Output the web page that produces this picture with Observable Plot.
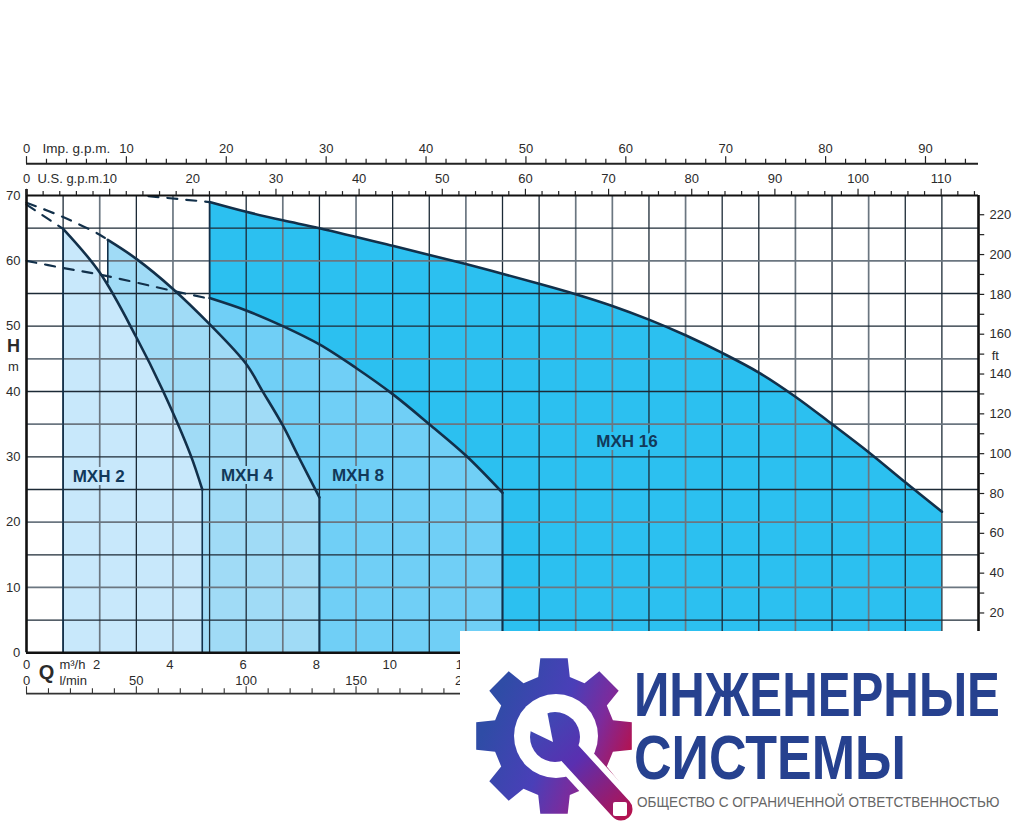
<!DOCTYPE html>
<html>
<head>
<meta charset="utf-8">
<style>html,body{margin:0;padding:0;background:#fff}svg{display:block}</style>
<script src="https://cdn.jsdelivr.net/npm/d3@7"></script>
<script src="https://cdn.jsdelivr.net/npm/@observablehq/plot@0.6"></script>
</head>
<body>
<script>
// Performance curves: Q in m³/h, H in m
const mxh2Q = [1, 2, 3, 3.71, 4.48, 4.8];
const mxh2H = [64.9, 58.2, 48.3, 40.3, 30.3, 25];
const mxh4Q = [2.22, 3, 4, 5, 6, 6.44, 7, 7.44, 8];
const mxh4H = [63.2, 60.3, 55.7, 50.3, 44.2, 40.1, 34.8, 29.9, 23.8];
const mxh8Q = [5, 6, 7, 8, 9, 10, 11, 12, 13];
const mxh8H = [54.3, 52.4, 50, 47.2, 43.6, 39.6, 35, 30.2, 24.5];
const mxh16Q = [5, 6, 7, 8, 10, 12, 14, 15, 16, 17, 18, 19, 20, 21, 22, 23, 24, 25];
const mxh16H = [69, 67.5, 66.2, 65, 62.3, 59.5, 56.5, 54.9, 53.1, 51, 48.6, 45.9, 42.9, 39.2, 35, 30.7, 26.1, 21.6];

// Dashed extensions
const dash1Q = [0, 1, 2, 2.22];
const dash1H = [68.9, 66.7, 64, 63.2];
const dash2Q = [0, 1];
const dash2H = [68.6, 64.9];
const dash3Q = [0, 1, 2, 4, 5];
const dash3H = [60, 58.9, 57.9, 55.4, 54.2];
const dash4Q = [3.33, 5];
const dash4H = [69.9, 69];

// Axes
const gridQ = d3.range(1, 26);
const gridH = d3.range(5, 70, 5);
const softQ = [2, 4, 7, 9, 12, 15, 16, 18, 21, 23];
const softH = [60, 45, 35, 20, 10];
const hLabels = [10, 20, 30, 40, 50, 60, 70];
const qLabels = [2, 4, 6, 8, 10, 12];
const lminLabels = [50, 100, 150, 200];
const lminTicks = d3.range(0, 231, 10);
const impLabels = [10, 20, 30, 40, 50, 60, 70, 80, 90];
const impTicks = d3.range(0, 95, 2);
const usLabels = [10, 20, 30, 40, 50, 60, 70, 80, 90, 100, 110];
const usTicks = d3.range(0, 115, 2);
const ftLabels = [20, 40, 60, 80, 100, 120, 140, 160, 180, 200, 220];
const ftTicks = d3.range(10, 221, 10);

// Unit conversions
const impToQ = 0.2728, usToQ = 0.2271, lminToQ = 0.06, ftToH = 0.3048;

const pts = (Q, H) => Q.map((q, i) => ({q, h: H[i]}));
const ink = "#12304a", txt = "#2b2b2b", lab = "#12395a";
const fills = {m2: "#c8e8fb", m4: "#a0dbf6", m8: "#70cff6", m16: "#2cc0f0"};
const curve = "catmull-rom";

function logo() {
  const g = d3.create("svg:g").attr("text-anchor", "start");
  const defs = g.append("defs");
  const grad = defs.append("linearGradient").attr("id", "lg").attr("gradientUnits", "userSpaceOnUse")
    .attr("x1", 490).attr("y1", 715).attr("x2", 625).attr("y2", 770);
  [[0, "#2f4ca6"], [0.45, "#4a3fb8"], [0.72, "#7c2b9c"], [1, "#b5124e"]].forEach(([o, c]) =>
    grad.append("stop").attr("offset", o).attr("stop-color", c));
  const gw = defs.append("linearGradient").attr("id", "lw").attr("gradientUnits", "userSpaceOnUse")
    .attr("x1", 535).attr("y1", 715).attr("x2", 630).attr("y2", 815);
  [[0, "#3a4cb4"], [0.45, "#5a2fb0"], [1, "#b5124e"]].forEach(([o, c]) =>
    gw.append("stop").attr("offset", o).attr("stop-color", c));

  g.append("rect").attr("x", 460).attr("y", 631).attr("width", 562).attr("height", 206).attr("fill", "#fff");

  const cx = 554, cy = 736, R = 79, Rr = 61, rad = Math.PI / 180;
  let d = "";
  for (let i = 0; i < 8; i++) {
    const a = i * 45 - 90;
    const p = [[Rr, a - 15], [R, a - 10], [R, a + 10], [Rr, a + 15]];
    p.forEach(([r, t], j) => {
      d += (i === 0 && j === 0 ? "M" : "L") + (cx + r * Math.cos(t * rad)).toFixed(1) + "," + (cy + r * Math.sin(t * rad)).toFixed(1);
    });
  }
  d += "Z";
  g.append("path").attr("d", d).attr("fill", "url(#lg)");
  g.append("circle").attr("cx", 556).attr("cy", 736).attr("r", 42).attr("fill", "#fff");
  g.append("line").attr("x1", 570).attr("y1", 754).attr("x2", 622).attr("y2", 811)
    .attr("stroke", "#fff").attr("stroke-width", 36);
  g.append("circle").attr("cx", 555).attr("cy", 737).attr("r", 25).attr("fill", "url(#lw)");
  g.append("line").attr("x1", 556).attr("y1", 738).attr("x2", 621).attr("y2", 809)
    .attr("stroke", "url(#lw)").attr("stroke-width", 23).attr("stroke-linecap", "round");
  g.append("path").attr("d", "M553,742L526,729L522,712L540,698L547,711Z").attr("fill", "#fff");
  g.append("rect").attr("x", 613).attr("y", 802).attr("width", 14).attr("height", 14).attr("rx", 2).attr("fill", "#fff");

  const word = (s, x, y, size, len, weight, fill) =>
    g.append("text").attr("class", "logo-word").attr("data-x", x).attr("data-y", y).attr("data-len", len)
      .attr("font-size", size).attr("font-weight", weight)
      .attr("fill", fill).attr("font-family", "Liberation Sans").attr("text-anchor", "start")
      .attr("transform", `translate(${x},${y})`).text(s);
  word("ИНЖЕНЕРНЫЕ", 634, 716, 63, 366, "bold", "#26418f");
  word("СИСТЕМЫ", 634, 779, 63, 272, "bold", "#26418f");
  word("ОБЩЕСТВО С ОГРАНИЧЕННОЙ ОТВЕТСТВЕННОСТЬЮ", 637, 807, 15, 363, "normal", "#666");
  return g.node();
}

const label = (data, opts) => Plot.text(data, {fontSize: 13, fill: txt, ...opts});

const chart = Plot.plot({
  width: 1022,
  height: 837,
  margin: 0,
  style: {fontFamily: "Liberation Sans", background: "#fff"},
  x: {domain: [0, 26], range: [26, 978], axis: null},
  y: {domain: [0, 70], range: [652.3, 195], axis: null},
  marks: [
    // Areas, largest first
    Plot.areaY(pts(mxh16Q, mxh16H), {x: "q", y: "h", fill: fills.m16, curve}),
    Plot.areaY(pts(mxh8Q, mxh8H), {x: "q", y: "h", fill: fills.m8, curve}),
    Plot.areaY(pts(mxh4Q, mxh4H), {x: "q", y: "h", fill: fills.m4, curve}),
    Plot.areaY(pts(mxh2Q, mxh2H), {x: "q", y: "h", fill: fills.m2, curve}),

    // Grid
    Plot.ruleX(gridQ, {y1: 0, y2: 70, stroke: d => softQ.includes(d) ? "#6b7680" : "#1c2a36", strokeWidth: d => softQ.includes(d) ? 1.7 : 1.3}),
    Plot.ruleY(gridH, {x1: 0, x2: 26, stroke: d => softH.includes(d) ? "#6b7680" : "#1c2a36", strokeWidth: d => softH.includes(d) ? 1.7 : 1.3}),

    // Region edges
    Plot.ruleX([1], {y1: 0, y2: mxh2H[0], stroke: ink, strokeWidth: 1.6}),
    Plot.ruleX([mxh2Q[mxh2Q.length - 1]], {y1: 0, y2: mxh2H[mxh2H.length - 1], stroke: ink, strokeWidth: 1.6}),
    Plot.ruleX([mxh4Q[0]], {y1: 56.5, y2: mxh4H[0], stroke: ink, strokeWidth: 1.6}),
    Plot.ruleX([mxh4Q[mxh4Q.length - 1]], {y1: 0, y2: mxh4H[mxh4H.length - 1], stroke: ink, strokeWidth: 2}),
    Plot.ruleX([mxh8Q[mxh8Q.length - 1]], {y1: 0, y2: mxh8H[mxh8H.length - 1], stroke: ink, strokeWidth: 2}),
    Plot.ruleX([mxh16Q[0]], {y1: mxh8H[0], y2: mxh16H[0], stroke: ink, strokeWidth: 1.6}),

    // Curves
    Plot.line(pts(mxh16Q, mxh16H), {x: "q", y: "h", stroke: ink, strokeWidth: 2.6, curve}),
    Plot.line(pts(mxh8Q, mxh8H), {x: "q", y: "h", stroke: ink, strokeWidth: 2.6, curve}),
    Plot.line(pts(mxh4Q, mxh4H), {x: "q", y: "h", stroke: ink, strokeWidth: 2.6, curve}),
    Plot.line(pts(mxh2Q, mxh2H), {x: "q", y: "h", stroke: ink, strokeWidth: 2.6, curve}),

    // Dashed extensions
    ...[[dash1Q, dash1H], [dash2Q, dash2H], [dash3Q, dash3H], [dash4Q, dash4H]].map(([Q, H]) =>
      Plot.line(pts(Q, H), {x: "q", y: "h", stroke: ink, strokeWidth: 2.2, strokeDasharray: "10,9", curve})),

    // Frame
    Plot.ruleX([0], {y1: 0, y2: 70.9, stroke: "#111", strokeWidth: 2.6}),
    Plot.ruleX([26], {y1: 0, y2: 70, stroke: "#111", strokeWidth: 2.6}),
    Plot.ruleY([0], {x1: 0, x2: 26, stroke: "#111", strokeWidth: 2.6}),
    Plot.ruleY([70], {x1: 0, x2: 26, stroke: "#111", strokeWidth: 2}),

    // Imp. g.p.m. axis
    Plot.ruleY([74.85], {x1: 0, x2: 26, stroke: "#222", strokeWidth: 2}),
    Plot.ruleX(impTicks, {x: d => d * impToQ, y1: 74.85, y2: d => d % 10 === 0 ? 75.95 : 75.55, stroke: "#222", strokeWidth: 1.2}),
    label(impLabels, {x: d => d * impToQ, y: () => 77.2, text: d => String(d)}),
    label([0], {x: 0, y: () => 77.2, text: () => "0"}),
    label(["Imp. g.p.m."], {x: () => 0.44, y: () => 77.2, textAnchor: "start", fontSize: 13.5}),

    // U.S. g.p.m. axis
    Plot.ruleX(usTicks, {x: d => d * usToQ, y1: 70, y2: d => d % 10 === 0 ? 70.95 : 70.6, stroke: "#222", strokeWidth: 1.2}),
    label(usLabels, {x: d => d * usToQ, y: () => 72.6, text: d => String(d)}),
    label([0], {x: 0, y: () => 72.6, text: () => "0"}),
    label(["U.S. g.p.m."], {x: () => 0.3, y: () => 72.6, textAnchor: "start"}),

    // H axis (m)
    label(hLabels, {x: () => 0, dx: -6, y: d => d, textAnchor: "end", text: d => String(d)}),
    label([0], {x: () => 0, dx: -10, y: () => 0, text: () => "0"}),
    Plot.text(["H"], {x: () => 0, dx: -13, y: () => 47, fontSize: 18, fontWeight: "bold", fill: txt}),
    label(["m"], {x: () => 0, dx: -13, y: () => 43.7}),

    // ft axis
    Plot.ruleY(ftTicks, {y: d => d * ftToH, x1: 26, x2: 26.17, stroke: "#222", strokeWidth: 1.2}),
    label(ftLabels, {x: () => 26.3, y: d => d * ftToH, textAnchor: "start", text: d => String(d)}),
    label(["ft"], {x: () => 26.36, y: () => 45.5, textAnchor: "start"}),

    // Q axis (m³/h)
    label(qLabels, {x: d => d, dx: -3, y: () => -1.85, text: d => String(d)}),
    label([0], {x: 0, y: () => -1.85, text: () => "0"}),
    label(["m³/h"], {x: () => 0.9, y: () => -1.85, textAnchor: "start"}),
    Plot.text(["Q"], {x: () => 0.55, y: () => -3.05, fontSize: 20, fontWeight: "bold", fill: txt}),

    // l/min axis
    Plot.ruleY([-6.25], {x1: 0, x2: 26, stroke: "#333", strokeWidth: 1.8}),
    Plot.ruleX(lminTicks, {x: d => d * lminToQ, y1: -6.25, y2: d => d % 50 === 0 ? -5.2 : -5.5, stroke: "#333", strokeWidth: 1.1}),
    label(lminLabels, {x: d => d * lminToQ, y: () => -4.25, text: d => String(d)}),
    label([0], {x: 0, y: () => -4.25, text: () => "0"}),
    label(["l/min"], {x: () => 0.9, y: () => -4.25, textAnchor: "start"}),

    // Series labels
    Plot.text(["MXH 2"], {x: () => 1.97, y: () => 27, fontSize: 17, fontWeight: "bold", fill: lab, stroke: fills.m2, strokeWidth: 6}),
    Plot.text(["MXH 4"], {x: () => 6.02, y: () => 27.2, fontSize: 17, fontWeight: "bold", fill: lab, stroke: fills.m4, strokeWidth: 6}),
    Plot.text(["MXH 8"], {x: () => 9.05, y: () => 27.2, fontSize: 17, fontWeight: "bold", fill: lab, stroke: fills.m8, strokeWidth: 6}),
    Plot.text(["MXH 16"], {x: () => 16.4, y: () => 32.3, fontSize: 17, fontWeight: "bold", fill: lab, stroke: fills.m16, strokeWidth: 6}),

    logo
  ]
});
document.body.appendChild(chart);
// Fit the logo words to their widths once they can be measured
d3.select(chart).selectAll("text.logo-word").each(function () {
  const t = d3.select(this);
  const sx = +t.attr("data-len") / this.getComputedTextLength();
  t.attr("transform", `translate(${t.attr("data-x")},${t.attr("data-y")}) scale(${sx},1)`);
});
</script>
</body>
</html>
